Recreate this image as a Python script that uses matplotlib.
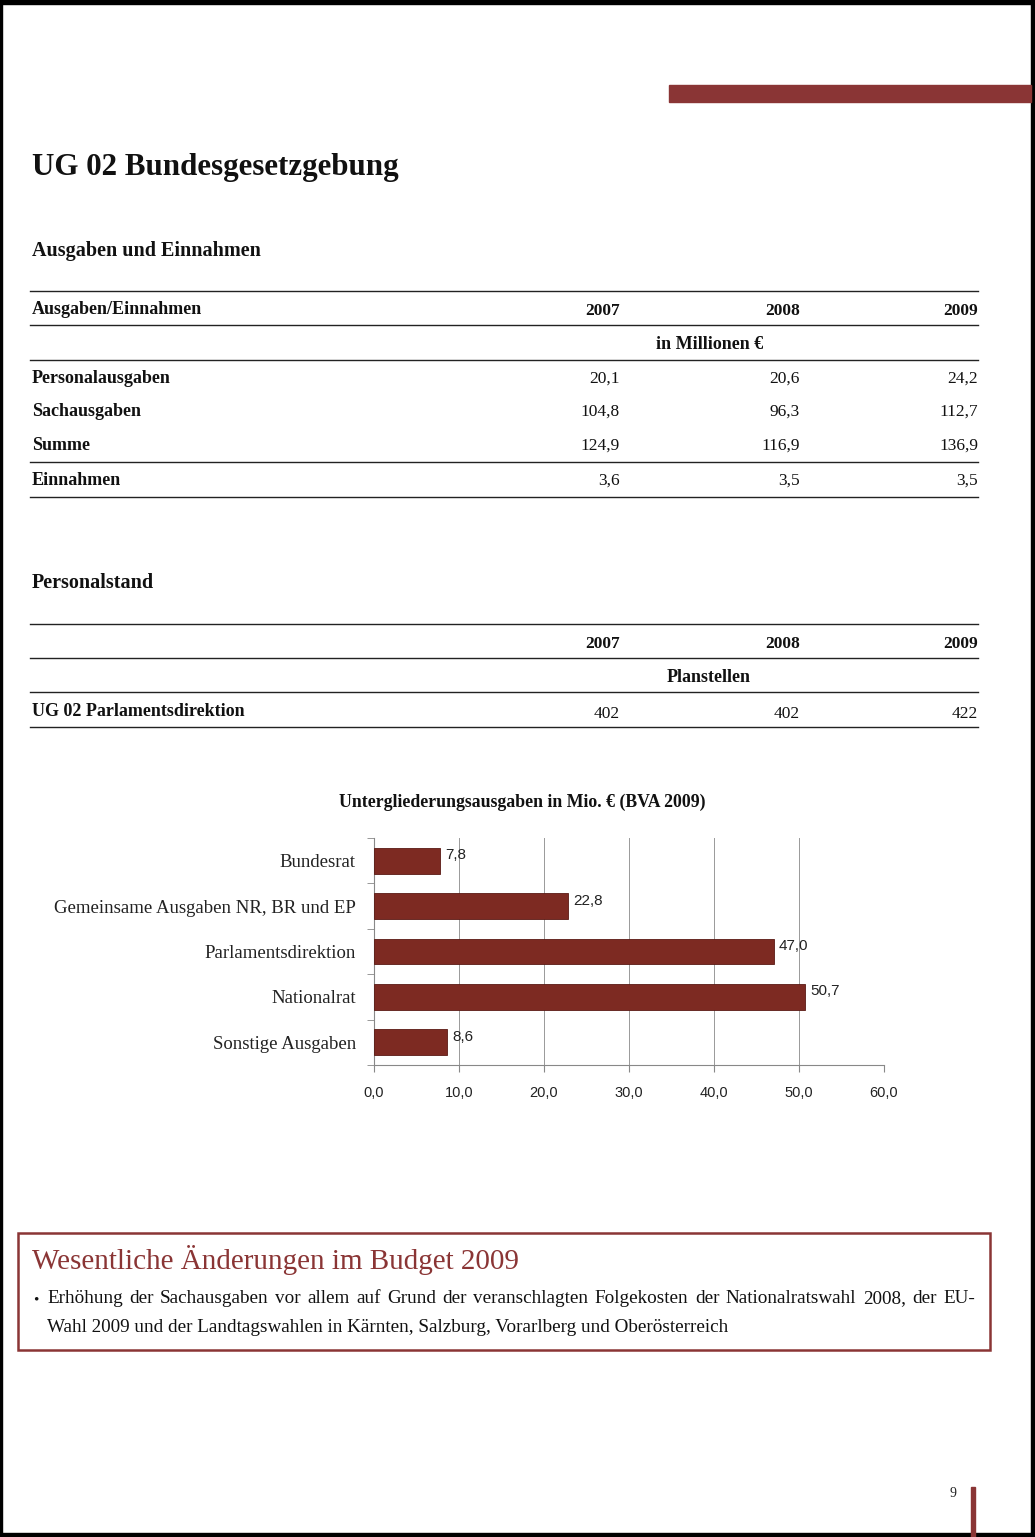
import matplotlib
matplotlib.use("Agg")
import matplotlib.pyplot as plt
from matplotlib.patches import Rectangle

# ---------------- data ----------------
years = ["2007", "2008", "2009"]
fin_rows = ["Personalausgaben", "Sachausgaben", "Summe", "Einnahmen"]
fin_values = [["20,1", "20,6", "24,2"],
              ["104,8", "96,3", "112,7"],
              ["124,9", "116,9", "136,9"],
              ["3,6", "3,5", "3,5"]]
staff_rows = ["UG 02 Parlamentsdirektion"]
staff_values = [["402", "402", "422"]]

categories = ["Bundesrat", "Gemeinsame Ausgaben NR, BR und EP",
              "Parlamentsdirektion", "Nationalrat", "Sonstige Ausgaben"]
values = [7.8, 22.8, 47.0, 50.7, 8.6]
xticks = [0, 10, 20, 30, 40, 50, 60]

MAROON = "#8a3535"
BAR = "#7d2a22"
SERIF = ["Liberation Serif", "DejaVu Serif"]
SANS = ["Liberation Sans", "DejaVu Sans"]

W, H = 1035, 1537
fig = plt.figure(figsize=(W / 100, H / 100), dpi=100)
fig.patch.set_facecolor("white")

# page overlay axes in pixel coordinates
pg = fig.add_axes([0, 0, 1, 1])
pg.set_xlim(0, W)
pg.set_ylim(H, 0)
pg.axis("off")

# scan frame
pg.add_patch(Rectangle((0, 0), W, 4, color="black"))
pg.add_patch(Rectangle((W - 4, 0), 4, H, color="black"))
pg.add_patch(Rectangle((0, H - 4), W, 4, color="black"))
pg.add_patch(Rectangle((0, 0), 2, H, color="black"))

# top red bar
pg.add_patch(Rectangle((669, 85), W - 4 - 669, 17, color=MAROON))

pg.text(32, 175, "UG 02 Bundesgesetzgebung", fontsize=22.3, fontweight="bold",
        family=SERIF, color="#111111", va="baseline")
pg.text(32, 256, "Ausgaben und Einnahmen", fontsize=14.5, fontweight="bold",
        family=SERIF, color="#111111", va="baseline")

col_x = [620, 800, 978]
L, R = 30, 978
TS = 13

def hline(y, lw=1.0):
    pg.plot([L, R], [y, y], color="#222222", lw=lw)

# financial table
for y in [291, 325, 360, 462, 497]:
    hline(y)
pg.text(32, 314, "Ausgaben/Einnahmen", fontsize=TS, fontweight="bold",
        family=SERIF, va="baseline", color="#111111")
for x, yr in zip(col_x, years):
    pg.text(x, 315, yr, fontsize=TS - 0.5, fontweight="bold", family=SERIF,
            ha="right", va="baseline", color="#111111")
pg.text(710, 349, "in Millionen €", fontsize=TS, fontweight="bold",
        family=SERIF, ha="center", va="baseline", color="#111111")
row_y = [383, 416, 450, 485]
for y, name, vals in zip(row_y, fin_rows, fin_values):
    pg.text(32, y, name, fontsize=TS, fontweight="bold", family=SERIF,
            va="baseline", color="#111111")
    for x, v in zip(col_x, vals):
        pg.text(x, y, v, fontsize=TS - 0.5, family=SERIF, ha="right",
                va="baseline", color="#111111")

# staff table
pg.text(32, 588, "Personalstand", fontsize=14.5, fontweight="bold",
        family=SERIF, color="#111111", va="baseline")
for y in [624, 658, 692, 727]:
    hline(y)
for x, yr in zip(col_x, years):
    pg.text(x, 648, yr, fontsize=TS - 0.5, fontweight="bold", family=SERIF,
            ha="right", va="baseline", color="#111111")
pg.text(709, 682, "Planstellen", fontsize=TS, fontweight="bold",
        family=SERIF, ha="center", va="baseline", color="#111111")
for name, vals in zip(staff_rows, staff_values):
    pg.text(32, 716, name, fontsize=TS, fontweight="bold", family=SERIF,
            va="baseline", color="#111111")
    for x, v in zip(col_x, vals):
        pg.text(x, 718, v, fontsize=TS - 0.5, family=SERIF, ha="right",
                va="baseline", color="#111111")

# chart title
pg.text(522, 807, "Untergliederungsausgaben in Mio. € (BVA 2009)",
        fontsize=12.8, fontweight="bold", family=SERIF, ha="center",
        va="baseline", color="#111111")

# bottom box
pg.add_patch(Rectangle((18, 1233), 972, 117, fill=False, edgecolor=MAROON, lw=1.8))
pg.text(32, 1269, "Wesentliche Änderungen im Budget 2009", fontsize=21,
        family=SERIF, color=MAROON, va="baseline")
pg.text(33, 1303, "•", fontsize=11, family=SERIF, va="baseline", color="#111111")

renderer = fig.canvas.get_renderer()

def justified(line, x0, x1, y, size):
    words = line.split(" ")
    objs = [pg.text(0, y, w, fontsize=size, family=SERIF, va="baseline",
                    color="#111111") for w in words]
    widths = [o.get_window_extent(renderer).width for o in objs]
    gap = (x1 - x0 - sum(widths)) / (len(words) - 1)
    x = x0
    for o, w in zip(objs, widths):
        o.set_x(x)
        x += w + gap

justified("Erhöhung der Sachausgaben vor allem auf Grund der veranschlagten "
          "Folgekosten der Nationalratswahl 2008, der EU-", 47, 975, 1303, 13.8)
pg.text(47, 1332, "Wahl 2009 und der Landtagswahlen in Kärnten, Salzburg, "
        "Vorarlberg und Oberösterreich", fontsize=13.8,
        family=SERIF, va="baseline", color="#111111")

# page number
pg.text(953, 1497, "9", fontsize=10, family=SERIF, ha="center",
        va="baseline", color="#222222")
pg.add_patch(Rectangle((971, 1487), 4, H - 1487, color=MAROON))

# ---------------- bar chart ----------------
ax = fig.add_axes([374 / W, 1 - 1065 / H, 510 / W, 227 / H])
ax.set_facecolor("none")
ypos = list(range(len(categories)))
ax.barh(ypos, values, height=0.57, color=BAR, edgecolor="#5a1a14", lw=0.6, zorder=3)
ax.set_ylim(len(categories) - 0.5, -0.5)
ax.set_xlim(0, 60)
ax.set_xticks(xticks)
ax.set_xticklabels([f"{t:.1f}".replace(".", ",") for t in xticks],
                   family=SANS, fontsize=10.5, color="#222222")
ax.set_yticks(ypos)
ax.set_yticklabels(categories, family=SERIF, fontsize=13.5, color="#222222")
ax.tick_params(axis="y", length=0, pad=13)
ax.tick_params(axis="x", length=5, direction="out", color="#888888", pad=10)
ax.set_yticks([i + 0.5 for i in range(-1, len(categories))], minor=True)
ax.tick_params(axis="y", which="minor", length=5, color="#888888")
ax.grid(axis="x", color="#999999", lw=0.7, zorder=0)
for s in ["top", "right"]:
    ax.spines[s].set_visible(False)
for s in ["left", "bottom"]:
    ax.spines[s].set_color("#888888")
    ax.spines[s].set_linewidth(0.8)
for y, v in zip(ypos, values):
    ax.text(v + 0.6, y - 0.12, f"{v:.1f}".replace(".", ","), family=SANS,
            fontsize=11, va="center", ha="left", color="#222222", zorder=4)

fig.savefig("out.png", dpi=100)
